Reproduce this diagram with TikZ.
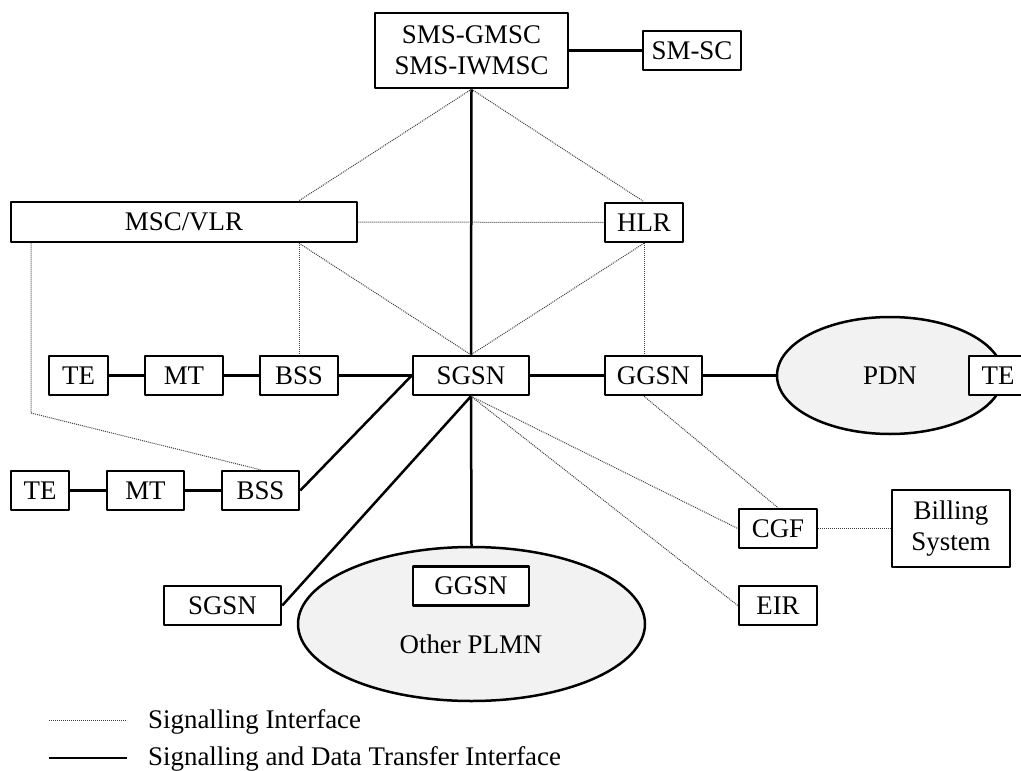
\documentclass[tikz,border=0pt]{standalone}
\usepackage{fontspec}
\setmainfont{Liberation Serif}
\usetikzlibrary{shapes.geometric}
\definecolor{cloudgray}{rgb}{0.95,0.95,0.95}
\begin{document}
\begin{tikzpicture}[x=1bp,y=-1bp,line join=bevel,
  box/.style={draw,line width=2.5bp,fill=white,inner sep=0pt,minimum height=39bp,
    align=center,font=\fontsize{27}{31}\selectfont},
  cloud/.style={draw,ellipse,line width=2.5bp,fill=cloudgray,inner sep=0pt,
    font=\fontsize{27}{31}\selectfont},
  sig/.style={line width=1bp,dash pattern=on 1bp off 1bp,black!75},
  data/.style={line width=2.5bp},
  legend/.style={anchor=base west,inner sep=0pt,font=\fontsize{27}{31}\selectfont}]
\useasboundingbox (0,0) rectangle (1021,771);
%%
  % Node: SMS-GMSC / SMS-IWMSC
  \node[box,minimum width=193bp,minimum height=75bp] (SMSGMSC) at (471.5,50.5) {SMS-GMSC\\SMS-IWMSC};
  % Node: SM-SC
  \node[box,minimum width=98bp] (SMSC) at (692,50.5) {SM-SC};
  % Node: MSC/VLR
  \node[box,minimum width=346bp,minimum height=40bp] (MSCVLR) at (184,222) {MSC/VLR};
  % Node: HLR
  \node[box,minimum width=78bp] (HLR) at (644,222.5) {HLR};
  % Row one: TE, MT, BSS, SGSN, GGSN
  \node[box,minimum width=59bp] (TEa) at (78.5,375.5) {TE};
  \node[box,minimum width=78bp] (MTa) at (184,375.5) {MT};
  \node[box,minimum width=78bp] (BSSa) at (299,375.5) {BSS};
  \node[box,minimum width=116bp] (SGSN) at (471,375.5) {SGSN};
  \node[box,minimum width=97bp] (GGSN) at (653.5,375.5) {GGSN};
  % Node: PDN
  \node[cloud,minimum width=226bp,minimum height=117bp] (PDN) at (890,375.5) {PDN};
  \node[box,minimum width=58bp] (TEc) at (998,375.5) {TE};
  % Row two: TE, MT, BSS
  \node[box,minimum width=58bp] (TEb) at (40,490.5) {TE};
  \node[box,minimum width=77bp] (MTb) at (145.5,490.5) {MT};
  \node[box,minimum width=77bp] (BSSb) at (260.5,490.5) {BSS};
  % Node: CGF, Billing, EIR
  \node[box,minimum width=78bp] (CGF) at (778,528.5) {CGF};
  \node[box,minimum width=118bp,minimum height=77bp] (Billing) at (951,528.5) {Billing\\System};
  \node[box,minimum width=78bp] (EIR) at (778,605.5) {EIR};
  % Node: other SGSN
  \node[box,minimum width=117bp] (SGSNb) at (222.5,605.5) {SGSN};
  % Node: Other PLMN
  \node[cloud,minimum width=347bp,minimum height=154bp] (PLMN) at (471.5,624) {};
  \node[box,minimum width=116bp] (GGSNb) at (471,586) {GGSN};
  \node[inner sep=0pt,font=\fontsize{27}{31}\selectfont] (PLMNlabel) at (471,644) {Other PLMN};
%%
  % Edge: SMS-GMSC -> SM-SC
  \draw[data] (SMSGMSC.east) -- (SMSC.west);
  % Edge: SMS-GMSC -> SGSN
  \draw[data] (SMSGMSC.south) -- (SGSN.north);
  % Edge: SMS-GMSC -> MSC/VLR, HLR
  \draw[sig] (SMSGMSC.south) -- (BSSa |- MSCVLR.north);
  \draw[sig] (SMSGMSC.south) -- (HLR.north);
  % Edge: MSC/VLR -> HLR
  \draw[sig] (MSCVLR.east) -- (HLR.west);
  % Edge: MSC/VLR -> BSS, SGSN
  \draw[sig] (BSSa |- MSCVLR.south) -- (BSSa.north);
  \draw[sig] (BSSa |- MSCVLR.south) -- (SGSN.north);
  \coordinate (Bend) at (31,413);
  \draw[sig] (Bend |- MSCVLR.south) -- (Bend) -- (BSSb.north);
  % Edge: HLR -> SGSN, GGSN
  \draw[sig] (HLR.south) -- (SGSN.north);
  \draw[sig] (HLR.south) -- (HLR.south |- GGSN.north);
  % Edge: TE -> MT -> BSS -> SGSN -> GGSN -> PDN
  \draw[data] (TEa.east) -- (MTa.west);
  \draw[data] (MTa.east) -- (BSSa.west);
  \draw[data] (BSSa.east) -- (SGSN.west);
  \draw[data] (SGSN.east) -- (GGSN.west);
  \draw[data] (GGSN.east) -- (PDN.west);
  % Edge: TE -> MT -> BSS -> SGSN
  \draw[data] (TEb.east) -- (MTb.west);
  \draw[data] (MTb.east) -- (BSSb.west);
  \draw[data] (BSSb.east) -- (SGSN.west);
  % Edge: SGSN -> SGSN, Other PLMN
  \draw[data] (SGSN.south) -- (SGSNb.east);
  \draw[data] (SGSN.south) -- (PLMN.north);
  % Edge: SGSN -> CGF, EIR
  \draw[sig] (SGSN.south) -- (CGF.west);
  \draw[sig] (SGSN.south) -- (EIR.west);
  % Edge: GGSN -> CGF -> Billing
  \draw[sig] (HLR.south |- GGSN.south) -- (CGF.north);
  \draw[sig] (CGF.east) -- (Billing.west);
%%
  % Legend
  \coordinate (SigA) at (49,720);
  \coordinate (SigB) at (127,720);
  \draw[sig] (SigA) -- (SigB);
  \node[legend] (SigText) at (148,728) {Signalling Interface};
  \coordinate (DataA) at (49,758);
  \coordinate (DataB) at (127,758);
  \draw[data] (DataA) -- (DataB);
  \node[legend] (DataText) at (148,765.5) {Signalling and Data Transfer Interface};
%
\end{tikzpicture}
\end{document}
